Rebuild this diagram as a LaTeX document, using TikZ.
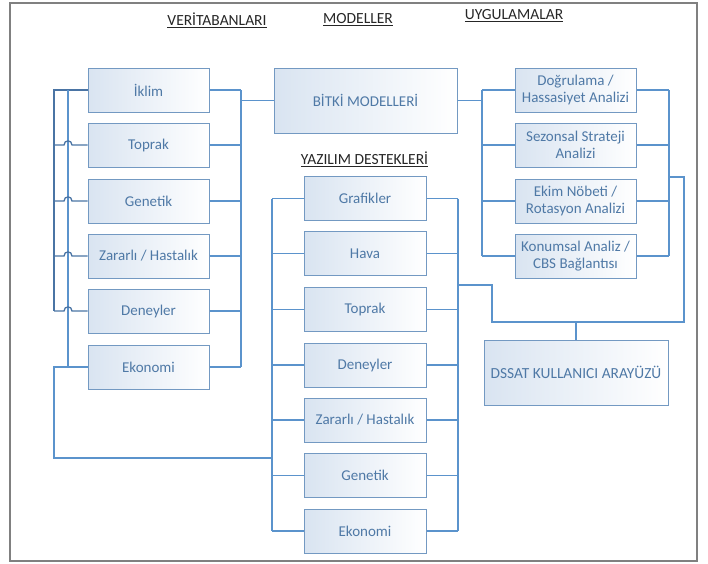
\documentclass[tikz,border=0pt]{standalone}
\usepackage{fontspec}
\setmainfont{Carlito}
\definecolor{boxline}{HTML}{7399C2}
\definecolor{boxfill}{HTML}{D9E4F1}
\definecolor{boxtext}{HTML}{4F79A6}
\definecolor{linec}{HTML}{5B93CC}
\definecolor{lined}{HTML}{4A74A4}
\definecolor{framec}{HTML}{808080}
\definecolor{hdrtext}{HTML}{262626}
\tikzset{
  box/.style={draw=boxline, line width=1pt, left color=boxfill, right color=white,
    minimum width=121pt, minimum height=44pt, inner sep=0pt, align=center,
    text=boxtext, font=\fontsize{15}{17}\selectfont},
  wide/.style={box, minimum width=183pt, minimum height=65pt},
  conn/.style={draw=linec, line width=1.3pt},
  connd/.style={draw=lined, line width=1.3pt},
  hdr/.style={text=hdrtext, font=\fontsize{15.5}{18}\selectfont, inner sep=0pt}
}
\begin{document}
\begin{tikzpicture}[x=1pt,y=-1pt]
\useasboundingbox (0,0) rectangle (708,563);
\draw[framec, line width=1.4pt] (10,3) rectangle (697,561);

% column headers
\node[hdr] (h1) at (217,20) {\underline{VERİTABANLARI}};
\node[hdr] (h2) at (358,20) {\underline{MODELLER}};
\node[hdr] (h3) at (514,16) {\underline{UYGULAMALAR}};
\node[hdr] (h4) at (364.5,159) {\underline{YAZILIM DESTEKLERİ}};

% databases
\node[box] (v1) at (148.5,90) {İklim};
\node[box] (v2) at (148.5,145) {Toprak};
\node[box] (v3) at (148.5,201) {Genetik};
\node[box] (v4) at (148.5,256) {Zararlı / Hastalık};
\node[box] (v5) at (148.5,311) {Deneyler};
\node[box] (v6) at (148.5,367) {Ekonomi};

% models
\node[wide] (m) at (365.5,100.5) {BİTKİ MODELLERİ};

% applications
\node[box] (a1) at (575.5,90) {Doğrulama /\\Hassasiyet Analizi};
\node[box] (a2) at (575.5,145) {Sezonsal Strateji\\Analizi};
\node[box] (a3) at (575.5,201) {Ekim Nöbeti /\\Rotasyon Analizi};
\node[box] (a4) at (575.5,256) {Konumsal Analiz /\\CBS Bağlantısı};

% software supports
\node[box, minimum width=122pt] (s1) at (365,198.5) {Grafikler};
\node[box, minimum width=122pt] (s2) at (365,253.5) {Hava};
\node[box, minimum width=122pt] (s3) at (365,309.5) {Toprak};
\node[box, minimum width=122pt] (s4) at (365,365) {Deneyler};
\node[box, minimum width=122pt] (s5) at (365,420) {Zararlı / Hastalık};
\node[box, minimum width=122pt] (s6) at (365,475.5) {Genetik};
\node[box, minimum width=122pt] (s7) at (365,531) {Ekonomi};

% user interface
\node[box, minimum width=184pt, minimum height=65pt, font=\fontsize{15.4}{18}\selectfont] (ui) at (576,372.5) {DSSAT KULLANICI ARAYÜZÜ};

% bus positions
\coordinate (lo) at (54,0);
\coordinate (li) at (68,0);
\coordinate (lr) at (241,0);
\coordinate (al) at (482,0);
\coordinate (ar) at (669,0);
\coordinate (ao) at (684,0);
\coordinate (sl) at (272,0);
\coordinate (sr) at (458,0);
\coordinate (sj) at (492,0);

% databases -> models
\draw[conn] (lr |- v1.east) -- (lr |- v6.east);
\foreach \n in {v1,v2,v3,v4,v5,v6} \draw[conn] (\n.east) -- (lr |- \n.east);
\draw[conn] (lr |- m.west) -- (m.west);

% models -> applications
\draw[conn] (al |- a1.west) -- (al |- a4.west);
\foreach \n in {a1,a2,a3,a4} \draw[conn] (al |- \n.west) -- (\n.west);
\draw[conn] (m.east) -- (al |- m.east);
\draw[conn] (ar |- a1.east) -- (ar |- a4.east);
\foreach \n in {a1,a2,a3,a4} \draw[conn] (\n.east) -- (ar |- \n.east);

% software supports buses
\draw[conn] (sl |- s1.west) -- (sl |- s7.west);
\draw[conn] (sr |- s1.east) -- (sr |- s7.east);
\foreach \n in {s1,s2,s3,s4,s5,s6,s7} {
  \draw[conn] (sl |- \n.west) -- (\n.west);
  \draw[conn] (\n.east) -- (sr |- \n.east);
}

% applications and software -> user interface
\coordinate (j1) at (669,177);
\coordinate (j2) at (684,322);
\coordinate (j3) at (492,285);
\draw[conn] (j1) -- (ao |- j1) -- (j2) -- (sj |- j2) -- (j3) -- (sr |- j3);
\draw[conn] (ui.north |- j2) -- (ui.north);

% left-hand database links
\draw[connd] (v1.west) -- (lo |- v1.west) -- (lo |- v5.west);
\draw[conn] (li |- v1.west) -- (li |- v6.west);
\foreach \n in {v2,v3,v4,v5} {
  \draw[connd] (lo |- \n.west) -- ([xshift=-4pt]li |- \n.west)
    .. controls ([xshift=-4pt,yshift=5.5pt]li |- \n.west) and ([xshift=4pt,yshift=5.5pt]li |- \n.west) ..
    ([xshift=4pt]li |- \n.west) -- (\n.west);
}
\coordinate (b1) at (54,458);
\draw[conn] (v6.west) -- (lo |- v6.west) -- (b1) -- (sl |- b1);
\end{tikzpicture}
\end{document}
